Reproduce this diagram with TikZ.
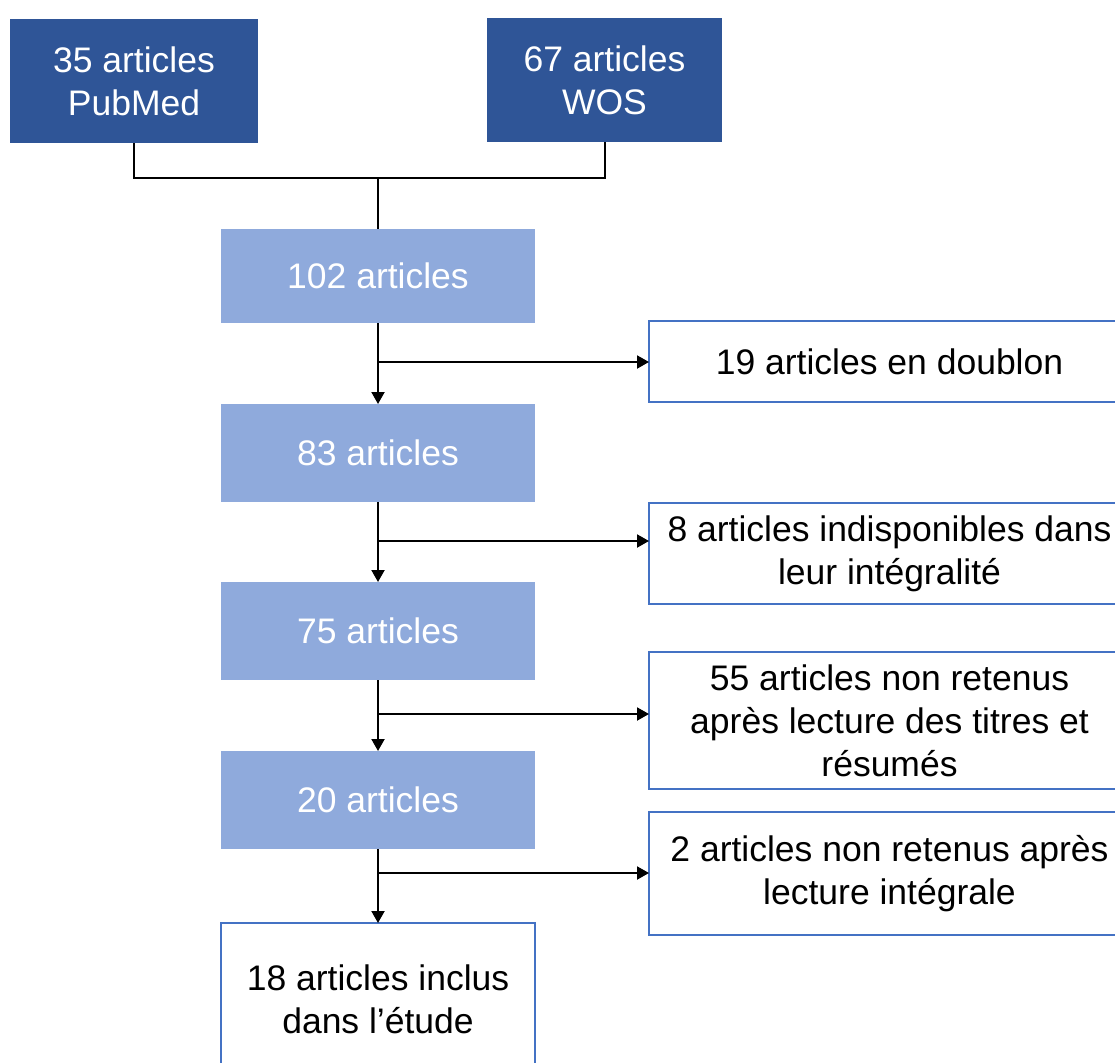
\documentclass[tikz,border=0pt]{standalone}
\usepackage{fontspec}
\setmainfont{Liberation Sans}
\usetikzlibrary{arrows.meta}
\definecolor{darkbl}{HTML}{2F5597}
\definecolor{lightbl}{HTML}{8FAADC}
\definecolor{edgebl}{HTML}{4472C4}
\tikzset{
  base/.style={inner sep=0pt, outer sep=0pt, align=center, font=\fontsize{35.5}{43}\selectfont},
  srcbox/.style={base, fill=darkbl, text=white},
  stagebox/.style={base, fill=lightbl, text=white, minimum width=314pt},
  outbox/.style={base, draw=edgebl, line width=1.5pt, fill=white, text=black},
  conn/.style={line width=2pt, black},
  arr/.style={conn, -{Triangle[length=12pt,width=13pt]}}
}
\begin{document}
\begin{tikzpicture}[x=1pt,y=-1pt]
\useasboundingbox (0,0) rectangle (1115,1062);
% sources
\node[srcbox, minimum width=248pt, minimum height=124pt] (pub) at (134,81) {35 articles\\PubMed};
\node[srcbox, minimum width=235pt, minimum height=124pt] (wos) at (604.5,80) {67 articles\\WOS};
% stages
\node[stagebox, minimum height=94pt] (n102) at (378,276) {102 articles};
\node[stagebox, minimum height=98pt] (n83) at (378,453) {83 articles};
\node[stagebox, minimum height=98pt] (n75) at (378,631) {75 articles};
\node[stagebox, minimum height=98pt] (n20) at (378,800) {20 articles};
\node[outbox, minimum width=314pt, minimum height=153pt] (n18) at (378,999.5) {18 articles inclus\\dans l’étude};
% exclusions
\node[outbox, minimum width=481pt, minimum height=81pt] (r19) at (889.5,361.5) {19 articles en doublon};
\node[outbox, minimum width=481pt, minimum height=101pt] (r8) at (889.5,553.5) {8 articles indisponibles dans\\leur intégralité};
\node[outbox, minimum width=481pt, minimum height=137pt] (r55) at (889.5,720.5) {55 articles non retenus\\après lecture des titres et\\résumés};
\node[outbox, minimum width=481pt, minimum height=123pt] (r2) at (889.5,873.5) {2 articles non retenus après\\lecture intégrale};
% merge
\coordinate (j) at (378,178);
\draw[conn] (pub.south) |- (wos.south |- j) -- (wos.south);
\draw[conn] (j) -- (n102.north);
% flow
\coordinate (b1) at (378,362);
\coordinate (b2) at (378,541);
\coordinate (b3) at (378,714);
\coordinate (b4) at (378,873);
\draw[arr] (n102.south) -- (n83.north);
\draw[arr] (b1) -- (b1 -| r19.west);
\draw[arr] (n83.south) -- (n75.north);
\draw[arr] (b2) -- (b2 -| r8.west);
\draw[arr] (n75.south) -- (n20.north);
\draw[arr] (b3) -- (b3 -| r55.west);
\draw[arr] (n20.south) -- (n18.north);
\draw[arr] (b4) -- (b4 -| r2.west);
\end{tikzpicture}
\end{document}
